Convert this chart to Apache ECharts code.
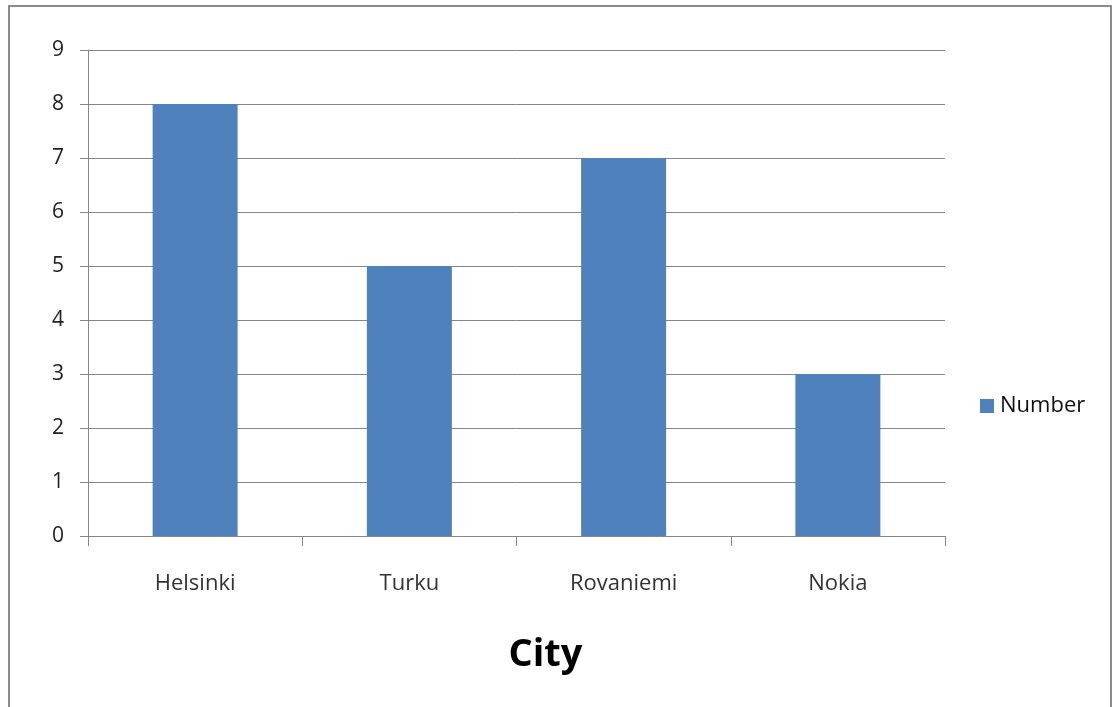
<!DOCTYPE html>
<html>
<head>
<meta charset="utf-8">
<script src="https://cdn.jsdelivr.net/npm/echarts@6/dist/echarts.min.js"></script>
<style>
  html, body { margin: 0; padding: 0; background: #fff; }
  #chart { width: 1112px; height: 707px; }
</style>
</head>
<body>
<div id="chart"></div>
<script>
// data
const cities = ['Helsinki', 'Turku', 'Rovaniemi', 'Nokia']
const numbers = [8, 5, 7, 3]
const seriesName = 'Number'
const axisTitle = 'City'

const gray = '#868686'
const chart = echarts.init(document.getElementById('chart'))
chart.setOption({
  animation: false,
  textStyle: { fontFamily: '"Open Sans", sans-serif' },
  graphic: [{
    type: 'rect',
    shape: { x: 9, y: 6, width: 1102, height: 720 },
    style: { fill: 'none', stroke: '#8a8a8a', lineWidth: 2 },
    silent: true
  }],
  grid: { left: 88, right: 167, top: 50, bottom: 171 },
  legend: {
    left: 975,
    top: 390,
    itemWidth: 14,
    itemHeight: 14,
    itemGap: 8,
    icon: 'rect',
    textStyle: { fontSize: 22, color: '#111', padding: [0, 0, 0, 1] },
    data: [seriesName]
  },
  xAxis: {
    type: 'category',
    data: cities,
    name: axisTitle,
    nameLocation: 'middle',
    nameGap: 100,
    nameTextStyle: { fontSize: 38, fontWeight: 'bold', color: '#000', padding: [0, 0, 0, 58] },
    axisLine: { lineStyle: { color: gray, width: 1 } },
    axisTick: { show: true, length: 10, lineStyle: { color: gray } },
    axisLabel: { fontSize: 22, color: '#333', margin: 37 }
  },
  yAxis: {
    type: 'value',
    min: 0,
    max: 9,
    interval: 1,
    axisLine: { show: true, lineStyle: { color: gray, width: 1 } },
    axisTick: { show: true, length: 8, lineStyle: { color: gray } },
    axisLabel: { fontSize: 21, color: '#222', margin: 24 },
    splitLine: { lineStyle: { color: gray, width: 1 } }
  },
  series: [{
    name: seriesName,
    type: 'bar',
    data: numbers,
    barWidth: 85,
    itemStyle: { color: '#4f81bd' }
  }]
})
</script>
</body>
</html>
